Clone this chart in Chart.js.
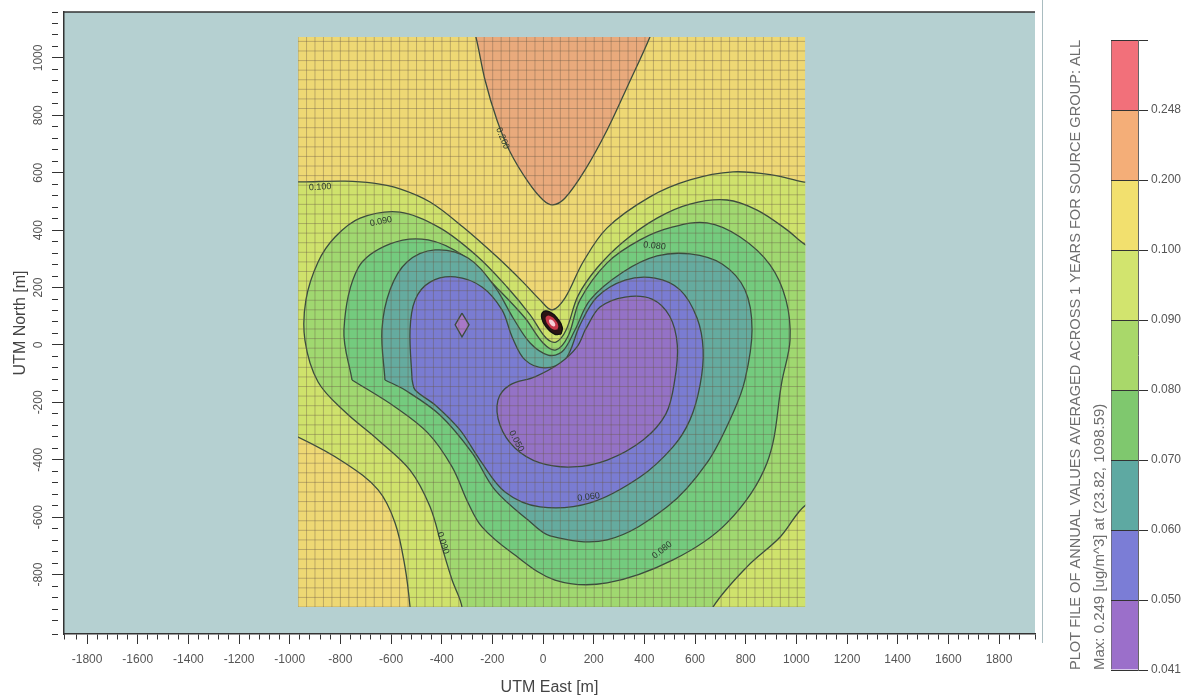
<!DOCTYPE html>
<html>
<head>
<meta charset="utf-8">
<script src="https://cdn.jsdelivr.net/npm/chart.js@4.4.0/dist/chart.umd.min.js"></script>
<style>
body{margin:0;background:#fff;width:1193px;height:698px;overflow:hidden;position:relative;}
#mapBox{position:absolute;left:0;top:0;width:1045px;height:698px;}
#barBox{position:absolute;left:1045px;top:0;width:148px;height:698px;}
#sep{position:absolute;left:1042px;top:0;width:1px;height:643px;background:#a9bcc0;}
</style>
</head>
<body>
<div id="mapBox"><canvas id="map"></canvas></div>
<div id="sep"></div>
<div id="barBox"><canvas id="bar"></canvas></div>
<script>
const xTitle = 'UTM East [m]';
const yTitle = 'UTM North [m]';
const barTitle = ['PLOT FILE OF ANNUAL VALUES AVERAGED ACROSS 1 YEARS FOR SOURCE GROUP: ALL',
                  'Max: 0.249 [ug/m^3] at (23.82, 1098.59)'];
const xRange = [-1891, 1942];
const yRange = [-1007, 1160];

// receptor grid extent and spacing
const gridX = [-967, 1035];
const gridY = [-913, 1073];
const gridStep = 33.4;

// colour bar levels (bottom to top)
const levelLabels = ['0.041','0.050','0.060','0.070','0.080','0.090','0.100','0.200','0.248'];
const levelColors = ['#9b6fca','#7b7dd6','#5ea9a2','#7fc86e','#a9d86a','#d2e46e','#f2e06e','#f4ae78','#f2707a'];

// contour outlines, [x, y] in metres
const c200 = [[-288,1132],[-265,1073],[-229,923],[-182,784],[-130,672],[-59,568],[0,505],[39,488],[87,512],[166,610],[253,749],[336,906],[422,1073],[442,1132]];
const c100 = [[-1038,568],[-951,568],[-782,571],[-670,564],[-565,544],[-446,498],[-316,411],[-182,307],[-79,219],[-12,157],[36,122],[87,164],[158,289],[253,408],[422,516],[580,575],[750,603],[908,592],[1026,568],[1133,557],[1133,-1028],[-517,-1028],[-525,-913],[-545,-773],[-584,-620],[-651,-505],[-782,-411],[-967,-321],[-1038,-303]];
const c090 = [[-320,-1028],[-320,-913],[-359,-819],[-399,-704],[-446,-564],[-525,-436],[-651,-331],[-782,-233],[-888,-129],[-940,17],[-936,157],[-888,289],[-821,376],[-722,442],[-565,463],[-407,408],[-261,310],[-142,202],[-51,105],[12,24],[51,10],[91,52],[138,171],[213,268],[316,359],[450,442],[580,491],[726,505],[845,470],[963,401],[1038,348],[1133,314],[1133,-540],[1038,-557],[936,-669],[805,-773],[671,-913],[620,-1028]];
const c080 = [[-754,-122],[-786,52],[-730,268],[-604,352],[-454,366],[-308,307],[-182,199],[-71,94],[0,7],[51,-17],[99,31],[146,157],[253,286],[383,366],[513,411],[647,425],[778,376],[896,279],[959,157],[975,17],[944,-122],[884,-411],[726,-620],[513,-749],[253,-829],[47,-819],[-122,-725],[-241,-634],[-296,-550],[-359,-425],[-454,-307],[-584,-216]];
const c070 = [[-624,-122],[-636,52],[-604,192],[-537,289],[-426,331],[-296,303],[-190,202],[-118,94],[-51,7],[20,-35],[75,-24],[126,52],[186,157],[316,254],[450,310],[580,317],[707,282],[797,192],[825,52],[797,-122],[750,-237],[647,-411],[490,-564],[253,-679],[28,-665],[-59,-610],[-190,-505],[-280,-376],[-407,-244],[-545,-157]];
const c060 = [[-517,-122],[-525,52],[-505,157],[-446,219],[-347,237],[-241,202],[-162,122],[-122,28],[-71,-52],[8,-80],[87,-52],[146,70],[213,167],[324,226],[442,233],[541,192],[608,94],[632,-17],[620,-139],[580,-261],[513,-355],[383,-460],[186,-550],[-12,-564],[-150,-512],[-249,-401],[-328,-296],[-426,-209],[-505,-157]];
const c050 = [[166,52],[225,132],[324,167],[430,160],[500,100],[530,0],[520,-122],[485,-240],[395,-331],[253,-401],[118,-425],[-12,-411],[-111,-359],[-170,-279],[-178,-192],[-130,-139],[-32,-111],[67,-63],[134,-7]];
const c050b = [[-320,111],[-292,70],[-320,28],[-347,70]];
// source area
const srcOuter = [[71,38],[76,61],[57,92],[26,115],[0,115],[-5,93],[14,61],[45,38]];
const srcMid = [[57,54],[60,67],[49,86],[30,100],[14,100],[11,87],[23,67],[41,54]];
const srcCore = [[47,65],[48,72],[42,82],[33,88],[25,88],[24,82],[29,72],[39,65]];

const contourLabels = [
  {text:'0.100', x:-880, y:550, rot:-3},
  {text:'0.090', x:-640, y:430, rot:-12},
  {text:'0.080', x:440, y:345, rot:6},
  {text:'0.060', x:180, y:-530, rot:-8},
  {text:'0.080', x:470, y:-715, rot:-38},
  {text:'0.090', x:-395, y:-690, rot:72},
  {text:'0.050', x:-105, y:-335, rot:62},
  {text:'0.200', x:-160, y:720, rot:68}
];

Chart.defaults.font.family = "'Liberation Sans', Arial, sans-serif";
const lineCol = '#3b4c3e';

function poly(points, color, order, extra) {
  const pts = points.map(p => ({x: p[0], y: p[1]}));
  pts.push({x: points[0][0], y: points[0][1]});
  return Object.assign({
    data: pts, showLine: true, fill: 'shape', backgroundColor: color,
    borderColor: lineCol, borderWidth: 1.3, pointRadius: 0, pointHitRadius: 0,
    tension: 0.35, order: order
  }, extra || {});
}

const gridV = [];
const gridH = [];
for (let gx = gridX[0]; gx <= gridX[1] + 1; gx += gridStep) {
  gridV.push({x: gx, y: gridY[0]}, {x: gx, y: gridY[1]}, {x: gx, y: null});
}
for (let gy = gridY[0]; gy <= gridY[1] + 1; gy += gridStep) {
  gridH.push({x: gridX[0], y: gy}, {x: gridX[1], y: gy}, {x: gridX[0], y: null});
}
const base = [[gridX[0],gridY[0]],[gridX[1],gridY[0]],[gridX[1],gridY[1]],[gridX[0],gridY[1]]];

const isMajor = v => Math.abs(v % 200) < 1e-6;
const tickFont = {size: 12};

const mapPlugin = {
  id: 'mapPlugin',
  beforeDraw(chart) {
    const {ctx, chartArea: a} = chart;
    ctx.save();
    ctx.fillStyle = '#b5d0d1';
    ctx.fillRect(a.left, a.top, a.width, a.height);
    ctx.restore();
  },
  beforeDatasetsDraw(chart) {
    const {ctx, scales: {x, y}} = chart;
    const l = x.getPixelForValue(gridX[0]), r = x.getPixelForValue(gridX[1]);
    const t = y.getPixelForValue(gridY[1]), b = y.getPixelForValue(gridY[0]);
    ctx.save();
    ctx.beginPath();
    ctx.rect(l, t, r - l, b - t);
    ctx.clip();
  },
  afterDatasetsDraw(chart) {
    const {ctx, scales: {x, y}} = chart;
    ctx.restore();
    ctx.save();
    ctx.font = "9px 'Liberation Sans', Arial, sans-serif";
    ctx.fillStyle = '#2c3a2e';
    ctx.textAlign = 'center';
    ctx.textBaseline = 'middle';
    contourLabels.forEach(lb => {
      ctx.save();
      ctx.translate(x.getPixelForValue(lb.x), y.getPixelForValue(lb.y));
      ctx.rotate(lb.rot * Math.PI / 180);
      ctx.fillText(lb.text, 0, 0);
      ctx.restore();
    });
    ctx.restore();
  },
  afterDraw(chart) {
    const {ctx, chartArea: a} = chart;
    ctx.save();
    ctx.strokeStyle = '#333';
    ctx.lineWidth = 1.5;
    ctx.beginPath();
    ctx.moveTo(a.left, a.top);
    ctx.lineTo(a.right, a.top);
    ctx.stroke();
    ctx.restore();
  }
};

new Chart(document.getElementById('map'), {
  type: 'scatter',
  data: {
    datasets: [
      poly(base, '#eed874', 30, {borderWidth: 0, tension: 0}),
      poly(c200, '#e9aa7c', 29),
      poly(c100, '#cfe26c', 28),
      poly(c090, '#a0d870', 27),
      poly(c080, '#74cb7e', 26),
      poly(c070, '#65ab9f', 25),
      poly(c060, '#7a7cd2', 24),
      poly(c050, '#9472c6', 23),
      poly(c050b, '#a878c8', 22, {tension: 0}),
      {data: gridV, showLine: true, borderColor: 'rgba(105,90,70,0.38)', borderWidth: 1, pointRadius: 0, pointHitRadius: 0, tension: 0, order: 10},
      {data: gridH, showLine: true, borderColor: 'rgba(105,90,70,0.38)', borderWidth: 1, pointRadius: 0, pointHitRadius: 0, tension: 0, order: 9},
      poly(srcOuter, '#2a1414', 8, {tension: 0.5, borderColor: '#111'}),
      poly(srcMid, '#c8384a', 7, {tension: 0.5, borderWidth: 0}),
      poly(srcCore, '#f6d0d8', 6, {tension: 0.5, borderWidth: 0})
    ]
  },
  options: {
    responsive: true,
    maintainAspectRatio: false,
    animation: false,
    events: [],
    layout: {padding: {top: 12, right: 10, left: 0, bottom: 0}},
    plugins: {legend: {display: false}, tooltip: {enabled: false}},
    scales: {
      x: {
        type: 'linear', position: 'bottom', min: xRange[0], max: xRange[1],
        ticks: {stepSize: 40, autoSkip: false, maxRotation: 0, color: '#555', font: tickFont, padding: 8,
          callback: v => isMajor(v) ? String(v) : ''},
        grid: {drawOnChartArea: false, tickLength: 10, tickColor: '#333',
          tickBorderDash: c => (c.tick && isMajor(c.tick.value)) ? [] : [5, 100]},
        border: {color: '#333', width: 1.5},
        title: {display: true, text: xTitle, color: '#444', font: {size: 16}, padding: {top: 0, bottom: 1}},
        afterFit: s => { s.height = 64; }
      },
      y: {
        type: 'linear', position: 'left', min: yRange[0], max: yRange[1],
        ticks: {stepSize: 40, autoSkip: false, minRotation: 90, maxRotation: 90, crossAlign: 'center',
          color: '#555', font: tickFont, padding: 0,
          callback: v => isMajor(v) ? String(v) : ''},
        grid: {drawOnChartArea: false, tickLength: 12, tickColor: '#333',
          tickBorderDash: c => (c.tick && isMajor(c.tick.value)) ? [] : [6, 100]},
        border: {color: '#333', width: 1.5},
        title: {display: true, text: yTitle, color: '#444', font: {size: 16}, padding: {top: 11, bottom: 0}},
        afterFit: s => { s.width = 64; }
      }
    }
  },
  plugins: [mapPlugin]
});

// rotated caption beside the colour bar
const barCaption = {
  id: 'barCaption',
  afterDraw(chart) {
    const {ctx, chartArea: a} = chart;
    ctx.save();
    ctx.font = "15px 'Liberation Sans', Arial, sans-serif";
    ctx.fillStyle = '#6e6e6e';
    ctx.textAlign = 'left';
    ctx.textBaseline = 'middle';
    barTitle.forEach((line, i) => {
      ctx.save();
      ctx.translate(31 + i * 24, a.bottom);
      ctx.rotate(-Math.PI / 2);
      ctx.fillText(line, 0, 0, a.bottom - a.top);
      ctx.restore();
    });
    ctx.restore();
  }
};

new Chart(document.getElementById('bar'), {
  type: 'bar',
  data: {
    labels: [''],
    datasets: levelColors.map(c => ({
      data: [1], backgroundColor: c, borderColor: '#666',
      borderWidth: {left: 1, right: 0, top: 0, bottom: 0}, borderSkipped: false,
      barPercentage: 1, categoryPercentage: 1
    }))
  },
  options: {
    responsive: true,
    maintainAspectRatio: false,
    animation: false,
    events: [],
    layout: {padding: {top: 40, bottom: 28, left: 66, right: 0}},
    plugins: {legend: {display: false}, tooltip: {enabled: false}},
    scales: {
      x: {display: false, stacked: true},
      y: {
        position: 'right', stacked: true, min: 0, max: 9,
        ticks: {stepSize: 1, color: '#555', font: tickFont, padding: 3,
          callback: v => levelLabels[v] || ''},
        grid: {color: '#333', tickColor: '#333', tickLength: 10, lineWidth: 1, z: 1},
        border: {color: '#666', z: 1},
        afterFit: s => { s.width = 55; }
      }
    }
  },
  plugins: [barCaption]
});
</script>
</body>
</html>
